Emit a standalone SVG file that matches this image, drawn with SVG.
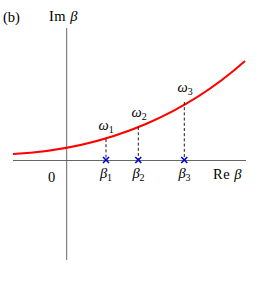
<svg xmlns="http://www.w3.org/2000/svg" width="263" height="296" viewBox="0 0 263 296">
<style>
.axis{stroke:#666;stroke-width:1;fill:none}
.curve{stroke:#ff0000;stroke-width:2;fill:none}
.dash{stroke:#000;stroke-width:0.9;stroke-dasharray:3,2.2;fill:none}
.cross{stroke:#0000dd;stroke-width:1.6}
text{font-family:"Liberation Serif","DejaVu Serif",serif;font-size:14.5px;fill:#000}
.it{font-style:italic}
.sub{font-size:10px;font-style:normal}
.mid{text-anchor:middle}
</style>
<rect width="263" height="296" fill="#fff"/>
<text x="3" y="22">(b)</text>
<g id="axes">
<line class="axis" x1="66.7" y1="28" x2="66.7" y2="260"/>
<line class="axis" x1="13" y1="160.5" x2="246" y2="160.5"/>
<text x="49" y="21" letter-spacing="0.5">Im <tspan class="it">β</tspan></text>
<text x="213" y="178.5" letter-spacing="0.5">Re <tspan class="it">β</tspan></text>
<text x="48" y="182" font-size="12">0</text>
</g>
<g id="curve">
<path class="curve" d="M13,154 C113,149 190,110 245,61"/>
</g>
<g id="connectors">
<line class="dash" x1="106" y1="139" x2="106" y2="160"/>
<line class="dash" x1="138.3" y1="127" x2="138.3" y2="160"/>
<line class="dash" x1="184.3" y1="102" x2="184.3" y2="160"/>
</g>
<g id="beta1">
<path class="cross" d="M103,157 L109,163 M109,157 L103,163"/>
<text x="106" y="178" class="it mid">β<tspan class="sub" dy="3">1</tspan></text>
<text x="106" y="130" class="it mid">ω<tspan class="sub" dy="3">1</tspan></text>
</g>
<g id="beta2">
<path class="cross" d="M135.3,157 L141.3,163 M141.3,157 L135.3,163"/>
<text x="138.5" y="178" class="it mid">β<tspan class="sub" dy="3">2</tspan></text>
<text x="139" y="117" class="it mid">ω<tspan class="sub" dy="3">2</tspan></text>
</g>
<g id="beta3">
<path class="cross" d="M181.3,157 L187.3,163 M187.3,157 L181.3,163"/>
<text x="184.5" y="178" class="it mid">β<tspan class="sub" dy="3">3</tspan></text>
<text x="185" y="92" class="it mid">ω<tspan class="sub" dy="3">3</tspan></text>
</g>
</svg>
